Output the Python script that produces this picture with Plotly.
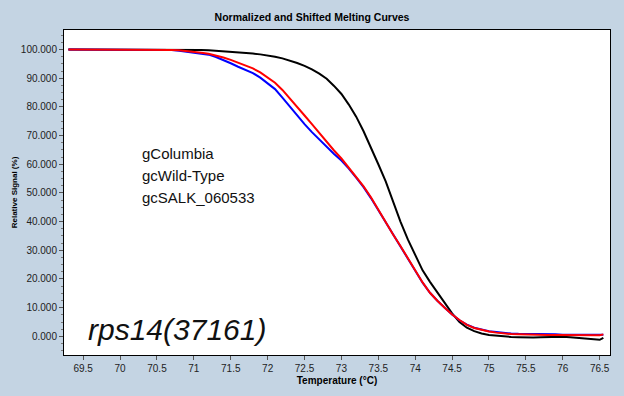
import plotly.graph_objects as go

temps = [69.3, 69.4, 69.5, 69.6, 69.7, 69.8, 69.9, 70.0, 70.1, 70.2,
         70.3, 70.4, 70.5, 70.6, 70.7, 70.8, 70.9, 71.0, 71.1, 71.2,
         71.3, 71.4, 71.5, 71.6, 71.7, 71.8, 71.9, 72.0, 72.1, 72.2,
         72.3, 72.4, 72.5, 72.6, 72.7, 72.8, 72.9, 73.0, 73.1, 73.2,
         73.3, 73.4, 73.5, 73.6, 73.7, 73.8, 73.9, 74.0, 74.1, 74.2,
         74.3, 74.4, 74.5, 74.6, 74.7, 74.8, 74.9, 75.0, 75.1, 75.2,
         75.3, 75.4, 75.5, 75.6, 75.7, 75.8, 75.9, 76.0, 76.1, 76.2,
         76.3, 76.4, 76.5, 76.55]

columbia = [100, 100, 100, 100, 100, 100, 100, 100, 100, 100,
            100, 100, 100, 100, 100, 100, 99.95, 99.9, 99.8, 99.7,
            99.55, 99.4, 99.2, 99.0, 98.8, 98.6, 98.3, 98.0, 97.5, 96.9,
            96.2, 95.3, 94.3, 93.1, 91.6, 89.8, 87.3, 84.5, 80.8, 76.6,
            71.5, 66.0, 60.0, 54.0, 47.0, 40.0, 33.8, 28.2, 23.0, 19.0,
            15.4, 11.5, 8.0, 5.0, 3.0, 1.8, 1.0, 0.5, 0.2, 0.0,
            -0.2, -0.3, -0.4, -0.4, -0.3, -0.2, -0.2, -0.1, -0.3, -0.5,
            -0.8, -1.0, -1.2, -0.5]

wild_type = [100, 100, 100, 100, 100, 100, 100, 100, 100, 100,
             100, 100, 100, 99.9, 99.8, 99.6, 99.3, 99.0, 98.7, 98.2,
             97.4, 96.4, 95.2, 94.0, 92.9, 91.8, 90.2, 88.3, 86.2, 83.2,
             80.0, 76.8, 74.0, 71.2, 68.6, 66.0, 63.6, 61.3, 58.5, 55.3,
             52.0, 48.2, 44.0, 39.8, 35.6, 31.5, 27.2, 23.0, 18.7, 15.2,
             12.4, 10.0, 7.6, 5.6, 4.1, 3.0, 2.3, 1.8, 1.5, 1.2,
             1.0, 0.9, 0.9, 0.8, 0.8, 0.7, 0.7, 0.6, 0.6, 0.6,
             0.5, 0.5, 0.5, 0.6]

salk = [100, 100, 100, 100, 100, 100, 100, 100, 100, 100,
        100, 100, 100, 99.9, 99.8, 99.7, 99.5, 99.2, 98.9, 98.5,
        97.9, 97.2, 96.4, 95.4, 94.4, 93.4, 92.0, 90.3, 88.4, 85.9,
        82.8, 79.8, 77.0, 74.0, 70.8, 67.6, 64.8, 62.0, 58.8, 55.5,
        52.3, 48.5, 44.0, 39.5, 35.5, 31.5, 27.3, 23.3, 18.8, 15.2,
        12.4, 10.0, 7.6, 5.7, 4.0, 2.9, 2.2, 1.7, 1.3, 1.0,
        0.8, 0.7, 0.6, 0.5, 0.5, 0.5, 0.5, 0.5, 0.5, 0.5,
        0.4, 0.4, 0.4, 0.7]

series_names = ["gColumbia", "gcWild-Type", "gcSALK_060533"]
series_colors = ["#000000", "#0000FF", "#FF0000"]
series_values = [columbia, wild_type, salk]

x_ticks = [69.5, 70, 70.5, 71, 71.5, 72, 72.5, 73, 73.5, 74, 74.5, 75, 75.5, 76, 76.5]
x_tick_labels = ["69.5", "70", "70.5", "71", "71.5", "72", "72.5", "73", "73.5",
                 "74", "74.5", "75", "75.5", "76", "76.5"]
y_ticks = [0, 10, 20, 30, 40, 50, 60, 70, 80, 90, 100]
y_tick_labels = ["0.000", "10.000", "20.000", "30.000", "40.000", "50.000",
                 "60.000", "70.000", "80.000", "90.000", "100.000"]

fig = go.Figure()
for name, color, vals in zip(series_names, series_colors, series_values):
    fig.add_trace(go.Scatter(x=temps, y=vals, mode="lines", name=name,
                             line=dict(color=color, width=2), showlegend=False))

axis_common = dict(showgrid=False, zeroline=False, showline=True, linecolor="#000000",
                   linewidth=1, mirror=True, ticks="outside", ticklen=4,
                   tickcolor="#555555", tickfont=dict(family="Arial", size=10, color="#222222"))

fig.update_xaxes(range=[69.24, 76.64], tickvals=x_ticks, ticktext=x_tick_labels,
                 title=dict(text="<b>Temperature (°C)</b>", standoff=3,
                            font=dict(family="Arial", size=10, color="#000000")),
                 **axis_common)
fig.update_yaxes(range=[-6.5, 106.8], tickvals=y_ticks, ticktext=y_tick_labels,
                 minor=dict(ticks="outside", ticklen=2, dtick=2.5, tick0=0, tickcolor="#777777"),
                 title=dict(text="<b>Relative Signal (%)</b>", standoff=2,
                            font=dict(family="Arial", size=8, color="#000000")),
                 **axis_common)

fig.update_layout(
    width=624, height=396,
    margin=dict(l=64, r=14, t=30, b=32),
    paper_bgcolor="#C4D4E3", plot_bgcolor="#FFFFFF",
    title=dict(text="<b>Normalized and Shifted Melting Curves</b>", x=0.5, xanchor="center",
               y=1 - 17 / 396, yanchor="middle",
               font=dict(family="Arial", size=10.5, color="#000000")),
)

label_y = [0.62, 0.551, 0.485]
for name, yy in zip(series_names, label_y):
    fig.add_annotation(text=name, xref="paper", yref="paper", x=0.14, y=yy,
                       xanchor="left", yanchor="middle", showarrow=False,
                       font=dict(family="Arial", size=15, color="#111111"))

fig.add_annotation(text="<i>rps14(37161)</i>", xref="paper", yref="paper", x=0.04, y=0.078,
                   xanchor="left", yanchor="middle", showarrow=False,
                   font=dict(family="Arial", size=30, color="#111111"))

fig.write_html("out.html")
